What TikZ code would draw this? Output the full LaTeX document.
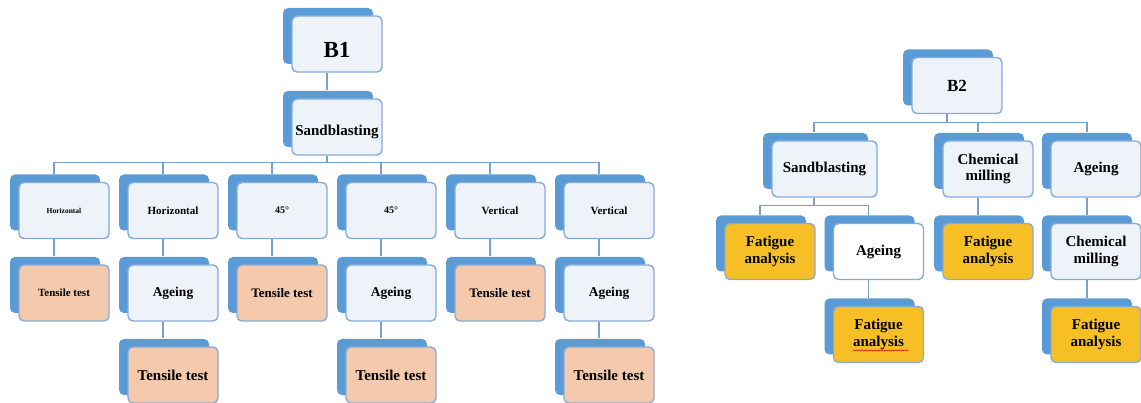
\documentclass[tikz,border=0pt]{standalone}
\usepackage{fontspec}
\setmainfont{Liberation Serif}
\usetikzlibrary{shadows,decorations.pathmorphing}
\definecolor{backblue}{HTML}{5B9BD5}
\definecolor{bordblue}{HTML}{86ABDA}
\definecolor{lightfill}{HTML}{EEF3FA}
\definecolor{peach}{HTML}{F4C9AC}
\definecolor{gold}{HTML}{F6BF26}
\definecolor{linkblue}{HTML}{7C9FC9}
\newcommand{\fs}[1]{\fontsize{#1pt}{\dimexpr #1pt*112/100\relax}\selectfont\bfseries}
\tikzset{
  box/.style={rectangle, rounded corners=5pt, draw=bordblue, line width=1.4pt,
    fill=lightfill, minimum width=90pt, minimum height=56pt, inner sep=2pt,
    align=center, text=black,
    copy shadow={shadow xshift=-9pt, shadow yshift=8pt, fill=backblue, draw=none}},
  tensile/.style={box, fill=peach},
  fatigue/.style={box, fill=gold},
  plain/.style={box, fill=white},
  link/.style={draw=linkblue, line width=1.3pt},
}
\begin{document}
\begin{tikzpicture}[x=1pt,y=-1pt]
\useasboundingbox (0,0) rectangle (1141,403);
% ---------- B1 tree ----------
\node[box, font=\fs{23}, text height=28pt, text depth=0pt] (B1) at (337,44) {B1};
\node[box, font=\fs{15}, text height=20pt, text depth=3.3pt] (S1) at (337,127) {Sandblasting};
\node[box, font=\fs{7.5}] (H1) at (64,210.5) {Horizontal};
\node[box, font=\fs{11}] (H2) at (173,210.5) {Horizontal};
\node[box, font=\fs{10}] (F1) at (282,210.5) {45°};
\node[box, font=\fs{10}] (F2) at (391,210.5) {45°};
\node[box, font=\fs{11}] (V1) at (500,210.5) {Vertical};
\node[box, font=\fs{11}] (V2) at (609,210.5) {Vertical};
\node[tensile, font=\fs{11}] (T1) at (64,293) {Tensile test};
\node[box, font=\fs{13.5}] (A2) at (173,293) {Ageing};
\node[tensile, font=\fs{13}] (T3) at (282,293) {Tensile test};
\node[box, font=\fs{13.5}] (A4) at (391,293) {Ageing};
\node[tensile, font=\fs{13}] (T5) at (500,293) {Tensile test};
\node[box, font=\fs{13.5}] (A6) at (609,293) {Ageing};
\node[tensile, font=\fs{15}] (T2) at (173,375) {Tensile test};
\node[tensile, font=\fs{15}] (T4) at (391,375) {Tensile test};
\node[tensile, font=\fs{15}] (T6) at (609,375) {Tensile test};
% connectors B1
\draw[link] ([xshift=-10pt]B1.south) -- ([xshift=-10pt,yshift=8pt]S1.north);
\draw[link] ([xshift=-10pt]S1.south) -- ++(0,7) coordinate (j1);
\foreach \c in {H1,H2,F1,F2,V1,V2}
  \draw[link] (j1) -| ([xshift=-10pt,yshift=8pt]\c.north);
\draw[link] ([xshift=-10pt]H1.south) -- ([xshift=-10pt,yshift=8pt]T1.north);
\draw[link] ([xshift=-10pt]H2.south) -- ([xshift=-10pt,yshift=8pt]A2.north);
\draw[link] ([xshift=-10pt]F1.south) -- ([xshift=-10pt,yshift=8pt]T3.north);
\draw[link] ([xshift=-10pt]F2.south) -- ([xshift=-10pt,yshift=8pt]A4.north);
\draw[link] ([xshift=-10pt]V1.south) -- ([xshift=-10pt,yshift=8pt]T5.north);
\draw[link] ([xshift=-10pt]V2.south) -- ([xshift=-10pt,yshift=8pt]A6.north);
\draw[link] ([xshift=-10pt]A2.south) -- ([xshift=-10pt,yshift=8pt]T2.north);
\draw[link] ([xshift=-10pt]A4.south) -- ([xshift=-10pt,yshift=8pt]T4.north);
\draw[link] ([xshift=-10pt]A6.south) -- ([xshift=-10pt,yshift=8pt]T6.north);
% ---------- B2 tree ----------
\node[box, font=\fs{17}] (B2) at (957,85.5) {B2};
\node[box, minimum width=105pt, font=\fs{15}] (S2) at (824.5,169) {Sandblasting};
\node[box, font=\fs{15}] (C2) at (988,169) {Chemical\\milling};
\node[box, font=\fs{15}] (G2) at (1096,169) {Ageing};
\node[fatigue, font=\fs{15}] (FA1) at (770,251.5) {Fatigue\\analysis};
\node[plain, font=\fs{15}] (G3) at (878.5,251.5) {Ageing};
\node[fatigue, font=\fs{15}] (FA2) at (988,251.5) {Fatigue\\analysis};
\node[box, font=\fs{15}] (C3) at (1096,251.5) {Chemical\\milling};
\node[fatigue, font=\fs{15}] (FA3) at (878.5,334.5) {Fatigue\\analysis};
\node[fatigue, font=\fs{15}] (FA4) at (1096,334.5) {Fatigue\\analysis};
% connectors B2
\draw[link] ([xshift=-10pt]B2.south) -- ++(0,8) coordinate (j2);
\foreach \c/\s in {S2/-10.5pt,C2/-10pt,G2/-9pt}
  \draw[link] (j2) -| ([xshift=\s,yshift=8pt]\c.north);
\draw[link] ([xshift=-10.5pt]S2.south) -- ++(0,8) coordinate (j3);
\foreach \c in {FA1,G3}
  \draw[link] (j3) -| ([xshift=-10pt,yshift=8pt]\c.north);
\draw[link] ([xshift=-10pt]C2.south) -- ([xshift=-10pt,yshift=8pt]FA2.north);
\draw[link] ([xshift=-9pt]G2.south) -- ([xshift=-9pt,yshift=8pt]C3.north);
\draw[link] ([xshift=-10pt]G3.south) -- ([xshift=-10pt,yshift=8pt]FA3.north);
\draw[link] ([xshift=-9pt]C3.south) -- ([xshift=-9pt,yshift=8pt]FA4.north);
% spell-check squiggle
\draw[red!80!black, line width=0.5pt, decorate,
  decoration={snake, amplitude=0.6pt, segment length=3pt}]
  ([xshift=-26pt,yshift=-16pt]FA3.center) -- ([xshift=30pt,yshift=-16pt]FA3.center);
\end{tikzpicture}
\end{document}
